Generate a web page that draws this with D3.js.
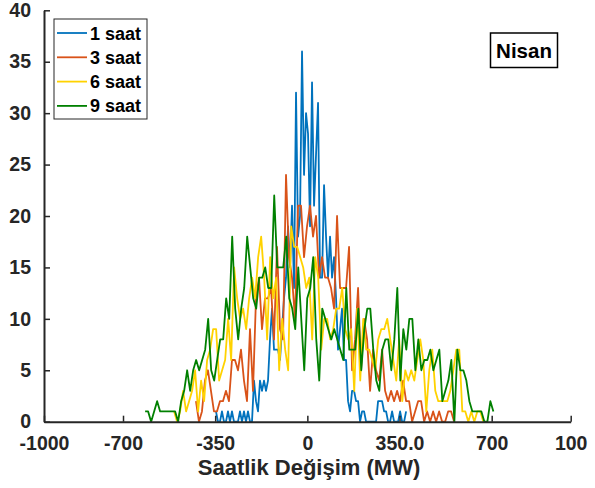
<!DOCTYPE html>
<html>
<head>
<meta charset="utf-8">
<script src="https://cdn.jsdelivr.net/npm/d3@7"></script>
<style>
    body { margin: 0; background: #fff; }
    svg { display: block; font-family: Arial, "Liberation Sans", Helvetica, sans-serif; }
</style>
</head>
<body>
<svg class="hist-graph" width="595" height="488"></svg>
<script>
// Axis ticks (the last label is cut short in the original)
const xTicks = [-1000, -700, -350, 0, 350, 700, 1000];
const xTickLabels = ['-1000', '-700', '-350', '0', '350.0', '700', '100'];
const yTicks = [0, 5, 10, 15, 20, 25, 30, 35, 40];

// Series names and bin layout (first bin centre and bin width, MW)
const seriesNames = ['1 saat', '3 saat', '6 saat', '9 saat'];
const seriesColors = ['#0072BD', '#D95319', '#FFD200', '#008000'];
const binStart = [-347, -423, -506, -616];
const binWidth = [7.6, 11.4, 11.4, 11.4];

// Counts per bin
const counts1 = [1,0,0,1,0,0,1,0,1,0, 0,0,1,0,1,0,1,0,0,4, 2,1,4,3,4,3,4,8,11,7,
    7,7,6,9,12,14,19,15,21,13, 32,18,20,36,24,30,28,19,33,21, 26,31,14,14,23,18,14,18,14,16,
    12,7,9,11,6,6,2,1,3,3, 2,2,0,1,1,0,0,0,0,0, 0,2,2,2,1,1,0,0,1,0, 0,0,1,0,0,1];
const counts3 = [2,0,1,4,5,3,1,1,2,2, 3,2,6,6,5,7,4,2,9,3, 12,14,9,12,12,13,8,17,9,8,
    24,16,14,10,21,21,16,19,21,18, 20,14,16,14,14,13,11,20,13,13, 13,17,5,8,13,5,10,8,3,7,
    5,4,7,3,2,3,2,3,2,4, 2,2,0,1,2,2,0,1,0,1, 0,1,0,0,1,1,0];
const counts6 = [1,0,1,3,1,2,3,5,1,4, 2,6,7,9,9,4,5,6,10,6, 15,12,10,11,9,12,14,12,16,18,
    14,8,16,12,14,5,10,7,5,19, 17,17,16,15,13,14,8,16,14,7, 10,10,8,9,11,11,13,9,8,9,
    3,11,4,10,7,7,6,5,8,9, 9,10,8,6,4,8,2,5,4,5, 4,6,8,6,1,5,7,3,2,2,
    2,2,3,5,7,7,1,1,0,1, 0,1,1,0];
const counts9 = [1,1,0,1,2,1,1,1,1,1, 1,0,2,3,5,3,5,6,5,6, 7,10,5,4,6,8,8,12,10,18,
    11,8,11,13,18,15,12,11,14,14, 15,13,13,22,15,15,15,18,12,11, 9,15,10,5,12,13,16,8,4,11,
    10,9,8,9,8,7,6,13,7,7, 7,11,5,9,11,11,7,4,3,7, 8,8,5,8,13,4,9,7,10,10,
    5,8,5,6,6,7,5,6,7,2, 3,4,6,0,7,5,5,4,2,1, 1,1,1,0,0,2,1];

const seriesCounts = [counts1, counts3, counts6, counts9];

/*  ==============
    CONFIG
    ==============
 */
let svg = d3.select('.hist-graph');
const axisColor = '#262626';

const plot = {left: 44, right: 570.7, top: 10.3, bottom: 421.7};

const xScale = d3.scaleLinear()
    .domain([-1000, 1000])
    .range([plot.left, plot.right]);
const yScale = d3.scaleLinear()
    .domain([0, 40])
    .range([plot.bottom, plot.top]);

// Turn each series into {x, y} points
const seriesData = seriesCounts.map((counts, s) => {
    return counts.map((c, i) => {
        return {x: binStart[s] + i * binWidth[s], y: c};
    });
});

/*  ===================
    SVG Construction
    ===================
 */
const line = d3.line()
    .x((d) => {return xScale(d.x);})
    .y((d) => {return yScale(d.y);});

svg.append('g')
    .attr('class', 'lines')
    .selectAll('path')
    .data(seriesData)
    .enter()
    .append('path')
    .attr('fill', 'none')
    .attr('stroke', (d, i) => {return seriesColors[i];})
    .attr('stroke-width', 1.8)
    .attr('stroke-linejoin', 'round')
    .attr('d', line);

/* Axes - ticks point inwards, bold labels */
let xAxis = svg.append('g')
    .attr('transform', `translate(0,${plot.bottom})`)
    .call(d3.axisBottom(xScale)
        .tickValues(xTicks)
        .tickFormat((d, i) => {return xTickLabels[i];})
        .tickSizeInner(-6)
        .tickSizeOuter(0)
        .tickPadding(14));
let yAxis = svg.append('g')
    .attr('transform', `translate(${plot.left},0)`)
    .call(d3.axisLeft(yScale)
        .tickValues(yTicks)
        .tickSizeInner(-6)
        .tickSizeOuter(0)
        .tickPadding(13));

[xAxis, yAxis].forEach((ax) => {
    ax.select('.domain').attr('stroke', axisColor).attr('stroke-width', 2);
    ax.selectAll('.tick line').attr('stroke', axisColor).attr('stroke-width', 1.5);
    ax.selectAll('.tick text')
        .attr('fill', axisColor)
        .attr('font-size', 19.5)
        .attr('font-weight', 'bold')
        .attr('font-family', 'Arial, "Liberation Sans", sans-serif');
});

// x-axis title
svg.append('text')
    .attr('x', 309)
    .attr('y', 475)
    .attr('text-anchor', 'middle')
    .attr('font-size', 22)
    .attr('font-weight', 'bold')
    .attr('fill', axisColor)
    .text('Saatlik Değişim (MW)');

/*  Legend */
let legendConfig = {x: 54, y: 19, width: 93, height: 100, first: 33, step: 24.3};

let legendBox = svg.append('g').attr('class', 'legend');
legendBox.append('rect')
    .attr('x', legendConfig.x)
    .attr('y', legendConfig.y)
    .attr('width', legendConfig.width)
    .attr('height', legendConfig.height)
    .attr('fill', '#fff')
    .attr('stroke', axisColor)
    .attr('stroke-width', 1);

let legend = legendBox.selectAll('g.entry')
    .data(seriesNames)
    .enter()
    .append('g')
    .attr('class', 'entry')
    .attr('transform', (d, i) => {return `translate(0,${legendConfig.first + i * legendConfig.step})`;});

legend.append('line')
    .attr('x1', 57).attr('x2', 87)
    .attr('y1', 0).attr('y2', 0)
    .attr('stroke', (d, i) => {return seriesColors[i];})
    .attr('stroke-width', 1.8);

legend.append('text')
    .attr('x', 90)
    .attr('y', 6.5)
    .attr('font-size', 18)
    .attr('font-weight', 'bold')
    .attr('fill', '#000')
    .text((d) => {return d;});

/*  Month box */
svg.append('rect')
    .attr('x', 490.5).attr('y', 33)
    .attr('width', 67).attr('height', 34.5)
    .attr('fill', '#fff')
    .attr('stroke', '#000')
    .attr('stroke-width', 1.5);
svg.append('text')
    .attr('x', 524)
    .attr('y', 57.5)
    .attr('text-anchor', 'middle')
    .attr('font-size', 20.5)
    .attr('font-weight', 'bold')
    .attr('fill', '#000')
    .text('Nisan');
</script>
</body>
</html>
